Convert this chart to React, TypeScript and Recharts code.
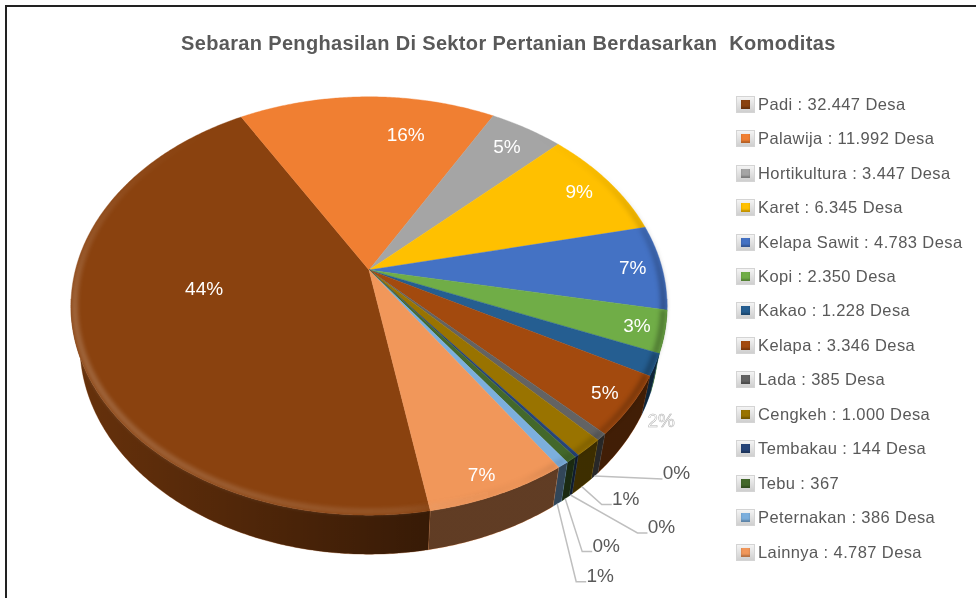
import { Legend, Pie, PieChart } from 'recharts';

const commodities = ['Padi', 'Palawija', 'Hortikultura', 'Karet', 'Kelapa Sawit', 'Kopi', 'Kakao', 'Kelapa', 'Lada', 'Cengkeh', 'Tembakau', 'Tebu', 'Peternakan', 'Lainnya'];
const villages = [32447, 11992, 3447, 6345, 4783, 2350, 1228, 3346, 385, 1000, 144, 367, 386, 4787];
const legendValues = ['32.447 Desa', '11.992 Desa', '3.447 Desa', '6.345 Desa', '4.783 Desa', '2.350 Desa', '1.228 Desa', '3.346 Desa', '385 Desa', '1.000 Desa', '144 Desa', '367', '386 Desa', '4.787 Desa'];
const percentLabels = ['44%', '16%', '5%', '9%', '7%', '3%', '2%', '5%', '0%', '1%', '0%', '0%', '1%', '7%'];
const sliceColors = ['#8a420f', '#f07f32', '#a5a5a5', '#ffc000', '#4472c4', '#70ad47', '#255e91', '#a34a0e', '#636363', '#997300', '#264478', '#43682b', '#7cafdd', '#f1975a'];

// label placement: angle nudge from the slice middle, radius as a fraction of the pie
const insidePlacement: Record<number, [number, number]> = {
  0: [-11, 0.56],
  1: [-11, 0.77],
  2: [0, 0.86],
  3: [0, 0.87],
  4: [0, 0.9],
  5: [0, 0.91],
  6: [-11, 1.1],
  7: [0, 0.91],
  13: [-1, 0.92],
};
// leader lines for the thin slices: elbow offset from the wall, then the horizontal run
const leaderPlacement: Record<number, [number, number, number]> = {
  8: [68, 3, 0],
  9: [20, 18, 10],
  10: [67, 38, 10],
  11: [17, 53, 10],
  12: [19, 78, 10],
};

const rows = commodities.map((name, i) => ({
  name: `${name} : ${legendValues[i]}`,
  value: villages[i],
  fill: sliceColors[i],
}));

const FONT = "'Liberation Sans', Arial, sans-serif";
const TILT = 0.172; // perspective of the pie's disc
const SQUASH = 0.6914;
const WALL_DROP = 39;
const WALL_SCALE = 0.97;

const project = (cx: number, cy: number, radius: number, angle: number, r = 1) => {
  const a = (angle * Math.PI) / 180;
  const u = r * Math.cos(a);
  const v = r * Math.sin(a);
  const d = 1 + TILT * v;
  return { x: cx + (radius * u) / d, y: cy - (radius * SQUASH * v) / d };
};

const wallPoint = (cx: number, cy: number, radius: number, angle: number) => {
  const p = project(cx, cy, radius, angle);
  return { x: cx + (p.x - cx) * WALL_SCALE, y: p.y + WALL_DROP };
};

const sweep = (from: number, to: number) => {
  const out: number[] = [];
  const n = Math.max(1, Math.ceil(Math.abs(from - to) * 2));
  for (let i = 0; i <= n; i++) out.push(from + ((to - from) * i) / n);
  return out;
};

// part of a slice that falls in an angle window, the window also tried a turn lower
const windows = (hi: number, lo: number, top: number, bottom: number) =>
  [0, -360]
    .map((s) => [Math.min(hi, top + s), Math.max(lo, bottom + s)])
    .filter(([a, b]) => a > b);

const toPath = (pts: { x: number; y: number }[]) =>
  pts.map((p, i) => `${i ? 'L' : 'M'}${p.x.toFixed(2)} ${p.y.toFixed(2)}`).join(' ');

const PieSlice = (props: any) => {
  const { cx, cy, outerRadius, startAngle, endAngle, fill } = props;
  const hi = Math.max(startAngle, endAngle);
  const lo = Math.min(startAngle, endAngle);
  const rim = sweep(hi, lo).map((a) => project(cx, cy, outerRadius, a));
  const face = `M${cx} ${cy} ${toPath(rim).replace('M', 'L')} Z`;
  const walls = windows(hi, lo, 352, 188).map(([a, b]) => {
    const top = sweep(a, b).map((t) => project(cx, cy, outerRadius, t));
    const bottom = sweep(b, a).map((t) => wallPoint(cx, cy, outerRadius, t));
    return toPath([...top, ...bottom]) + ' Z';
  });
  const bevel = toPath(sweep(hi, lo).map((t) => project(cx, cy, outerRadius, t, 0.988)));
  return (
    <g>
      {walls.map((d, i) => (
        <g key={i}>
          <path d={d} fill={fill} stroke={fill} strokeWidth={0.4} />
          <path d={d} fill="url(#wallShade)" />
        </g>
      ))}
      <path d={face} fill={fill} stroke={fill} strokeWidth={0.4} />
      <g mask="url(#bevelFade)">
        <path d={bevel} fill="none" stroke="url(#bevelShade)" strokeWidth={6} filter="url(#bevelBlur)" />
      </g>
    </g>
  );
};

const SliceLabel = (props: any) => {
  const { cx, cy, outerRadius, midAngle, index } = props;
  const text = percentLabels[index];
  const leader = leaderPlacement[index];
  if (leader) {
    const start = wallPoint(cx, cy, outerRadius, midAngle);
    const elbow = { x: start.x + leader[0], y: start.y + leader[1] };
    const end = { x: elbow.x + leader[2], y: elbow.y };
    return (
      <g>
        <polyline
          points={`${start.x},${start.y} ${elbow.x},${elbow.y} ${end.x},${end.y}`}
          fill="none"
          stroke="#bfbfbf"
          strokeWidth={1.5}
        />
        <text x={end.x + 14} y={end.y - 6} textAnchor="middle" dominantBaseline="central" fontFamily={FONT} fontSize={19} fill="#595959">
          {text}
        </text>
      </g>
    );
  }
  const [nudge, r] = insidePlacement[index];
  const p = project(cx, cy, outerRadius, midAngle + nudge, r);
  const outlined = index === 6;
  return (
    <text
      x={p.x}
      y={p.y}
      textAnchor="middle"
      dominantBaseline="central"
      fontFamily={FONT}
      fontSize={19}
      fill="#ffffff"
      stroke={outlined ? '#b0b0b0' : 'none'}
      strokeWidth={outlined ? 0.5 : 0}
    >
      {text}
    </text>
  );
};

const LegendList = ({ payload }: any) => (
  <div style={{ fontFamily: FONT, fontSize: 16.5, color: '#595959' }}>
    {(payload || []).map((entry: any) => (
      <div key={entry.value} style={{ display: 'flex', alignItems: 'center', height: 34.46, whiteSpace: 'nowrap', letterSpacing: 0.4 }}>
        <span
          style={{
            boxSizing: 'border-box',
            width: 19,
            height: 17,
            marginRight: 3,
            padding: '3px 4px',
            border: '1px solid #d4d4d4',
            background: 'linear-gradient(#f4f4f4, #cfcfcf)',
          }}
        >
          <span style={{ display: 'block', width: 9, height: 9, background: entry.color, boxShadow: 'inset 0 -2px 2px rgba(0,0,0,0.25)' }} />
        </span>
        {entry.value}
      </div>
    ))}
  </div>
);

export default function App() {
  return (
    <div style={{ position: 'absolute', left: 0, top: 0, width: 976, height: 598, overflow: 'hidden', background: '#fff', filter: 'blur(0.45px)' }}>
      <div style={{ position: 'absolute', left: 5, top: 5, width: 971, height: 593, borderTop: '2px solid #222', borderLeft: '2px solid #222' }} />
      <div
        style={{
          position: 'absolute',
          left: 181,
          top: 31,
          fontFamily: FONT,
          fontWeight: 700,
          fontSize: 20,
          letterSpacing: 0.34,
          lineHeight: '24px',
          color: '#595959',
          whiteSpace: 'pre',
        }}
      >
        {'Sebaran Penghasilan Di Sektor Pertanian Berdasarkan  Komoditas'}
      </div>
      <PieChart width={976} height={598} margin={{ top: 0, right: 0, bottom: 0, left: 0 }} style={{ position: 'absolute', left: 0, top: 0 }}>
        <defs>
          <linearGradient id="wallShade" gradientUnits="userSpaceOnUse" x1="70" y1="0" x2="667" y2="0">
            <stop offset="0%" stopColor="#000" stopOpacity={0.25} />
            <stop offset="60%" stopColor="#000" stopOpacity={0.6} />
            <stop offset="100%" stopColor="#000" stopOpacity={0.6} />
          </linearGradient>
          <linearGradient id="bevelShade" gradientUnits="userSpaceOnUse" x1="70" y1="0" x2="667" y2="0">
            <stop offset="0%" stopColor="#fff" stopOpacity={0.2} />
            <stop offset="55%" stopColor="#fff" stopOpacity={0.1} />
            <stop offset="75%" stopColor="#000" stopOpacity={0.02} />
            <stop offset="100%" stopColor="#000" stopOpacity={0.3} />
          </linearGradient>
          <linearGradient id="bevelFadeRamp" gradientUnits="userSpaceOnUse" x1="0" y1="130" x2="0" y2="310">
            <stop offset="0%" stopColor="#000" />
            <stop offset="100%" stopColor="#fff" />
          </linearGradient>
          <mask id="bevelFade" maskUnits="userSpaceOnUse" x="0" y="0" width="976" height="598">
            <rect x="0" y="0" width="976" height="598" fill="url(#bevelFadeRamp)" />
          </mask>
          <filter id="bevelBlur" filterUnits="userSpaceOnUse" x="0" y="0" width="976" height="598">
            <feGaussianBlur stdDeviation="2" />
          </filter>
        </defs>
        <Pie
          data={rows}
          dataKey="value"
          nameKey="name"
          cx={369}
          cy={270}
          innerRadius={0}
          outerRadius={293.6}
          startAngle={280}
          endAngle={-80}
          stroke="none"
          shape={PieSlice}
          activeShape={PieSlice}
          inactiveShape={PieSlice}
          label={SliceLabel}
          labelLine={false}
          isAnimationActive={false}
        />
        <Legend
          layout="vertical"
          align="right"
          verticalAlign="top"
          content={LegendList}
          itemSorter={null}
          wrapperStyle={{ left: 736, top: 87, width: 240, right: 'auto' }}
        />
      </PieChart>
    </div>
  );
}
